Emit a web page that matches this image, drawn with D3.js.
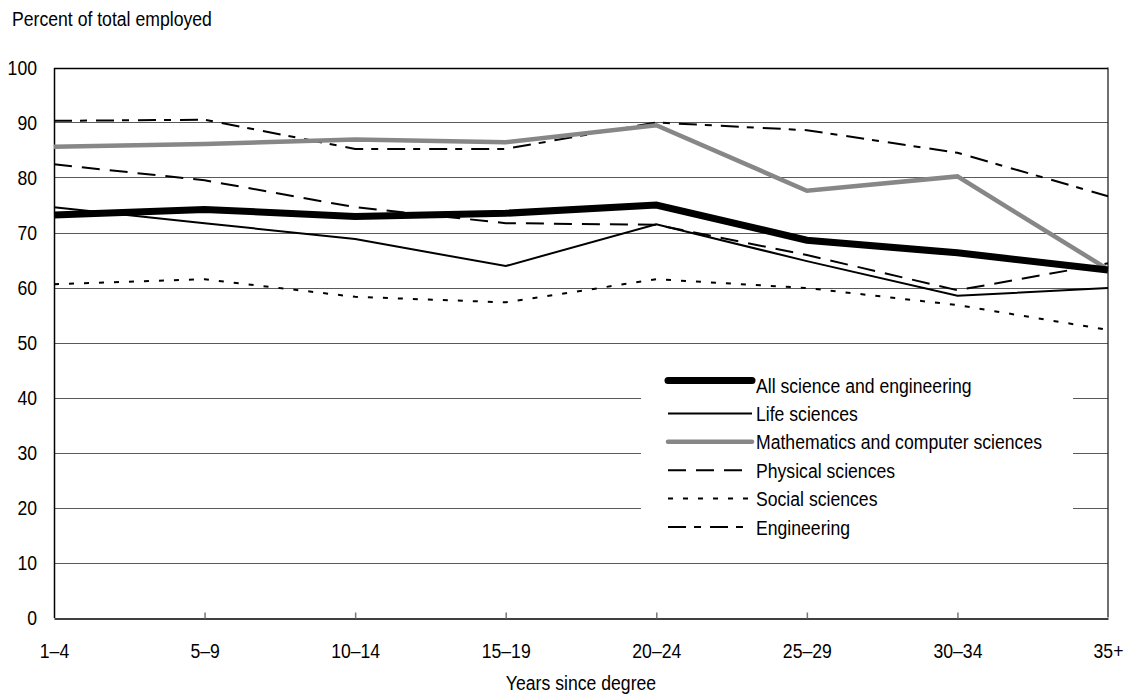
<!DOCTYPE html>
<html lang="en">
<head>
<meta charset="UTF-8">
<title>Percent of total employed by years since degree</title>
<style>
  body { margin: 0; background: #fff; }
  svg text { font-family: "Liberation Sans", Arial, sans-serif; fill: #000; }
  .grid line { stroke: #5a5a5a; stroke-width: 1; }
  .series { fill: none; stroke-linejoin: miter; }
</style>
</head>
<body>
<svg id="chart" width="1130" height="696"></svg>
<script src="https://d3js.org/d3.v7.min.js"></script>
<script>
const years = ["1\u20134", "5\u20139", "10\u201314", "15\u201319", "20\u201324", "25\u201329", "30\u201334", "35+"];
const yTicks = [0, 10, 20, 30, 40, 50, 60, 70, 80, 90, 100];

const allSE       = [73.2, 74.2, 72.9, 73.5, 75.0, 68.6, 66.3, 63.2];
const lifeSci     = [74.6, 71.7, 68.8, 63.9, 71.5, 64.8, 58.5, 59.9];
const mathCS      = [85.6, 86.1, 86.9, 86.4, 89.5, 77.6, 80.2, 63.3];
const physSci     = [82.4, 79.5, 74.6, 71.7, 71.4, 65.9, 59.5, 64.4];
const socialSci   = [60.6, 61.5, 58.3, 57.3, 61.5, 59.9, 56.8, 52.3];
const engineering = [90.3, 90.5, 85.2, 85.2, 90.0, 88.6, 84.5, 76.6];

const series = [
  { name: "All science and engineering", values: allSE, color: "#000", width: 7, dash: null },
  { name: "Life sciences", values: lifeSci, color: "#000", width: 2, dash: null },
  { name: "Mathematics and computer sciences", values: mathCS, color: "#878787", width: 4.5, dash: null },
  { name: "Physical sciences", values: physSci, color: "#000", width: 2, dash: "18,10" },
  { name: "Social sciences", values: socialSci, color: "#000", width: 2, dash: "5,10" },
  { name: "Engineering", values: engineering, color: "#000", width: 2, dash: "18,8,7,9" }
];

const margin = { top: 67.5, right: 22, bottom: 78.5, left: 54 };
const width = 1130, height = 696;
const fontSize = 21;
const squeeze = 0.84; // narrow face imitation

const svg = d3.select("#chart");

// make text look like a condensed face: scale horizontally, keep x positions
function narrow(sel) {
  sel.each(function() {
    const t = d3.select(this);
    const x0 = +(t.attr("x") || 0);
    t.attr("x", x0 / squeeze)
      .attr("transform", `scale(${squeeze},1)`)
      .attr("font-size", fontSize);
  });
}

const x = d3.scalePoint()
  .domain(years)
  .range([margin.left, width - margin.right]);

const y = d3.scaleLinear()
  .domain([0, 100])
  .range([height - margin.bottom, margin.top]);

// gridlines
svg.append("g")
  .attr("class", "grid")
  .selectAll("line")
  .data(yTicks.filter(d => d > 0 && d < 100))
  .join("line")
  .attr("x1", margin.left)
  .attr("x2", width - margin.right)
  .attr("y1", d => Math.round(y(d)) + 0.5)
  .attr("y2", d => Math.round(y(d)) + 0.5);

// frame: top, right
svg.append("line")
  .attr("x1", margin.left).attr("x2", width - margin.right)
  .attr("y1", Math.round(y(100)) + 0.5).attr("y2", Math.round(y(100)) + 0.5)
  .attr("stroke", "#000").attr("stroke-width", 1.3);
svg.append("line")
  .attr("x1", width - margin.right).attr("x2", width - margin.right)
  .attr("y1", y(100)).attr("y2", y(0))
  .attr("stroke", "#222").attr("stroke-width", 1.3);

// x axis with inner ticks
const xAxis = svg.append("g")
  .attr("transform", `translate(0,${Math.round(y(0)) + 0.5})`)
  .call(d3.axisBottom(x).tickSize(0).tickPadding(25));
xAxis.select(".domain").attr("stroke", "#000").attr("stroke-width", 1.5);
xAxis.selectAll(".tick text").call(narrow);
xAxis.selectAll(".tick")
  .filter((d, i) => i > 0 && i < years.length - 1)
  .append("line")
  .attr("y1", 0).attr("y2", -6)
  .attr("stroke", "#777").attr("stroke-width", 1.5);

// y axis
const yAxis = svg.append("g")
  .attr("transform", `translate(${margin.left},0)`)
  .call(d3.axisLeft(y).tickValues(yTicks).tickSize(0).tickPadding(17));
yAxis.select(".domain").attr("stroke", "#000").attr("stroke-width", 1.5);
yAxis.selectAll(".tick text").call(narrow);

// legend background (covers gridlines)
const legend = svg.append("g").attr("transform", "translate(641,355)");
legend.append("rect")
  .attr("width", 432).attr("height", 195)
  .attr("fill", "#fff");

// series lines
const line = d3.line()
  .x((d, i) => x(years[i]))
  .y(d => y(d));

svg.append("g")
  .selectAll("path")
  .data(series.slice().reverse())
  .join("path")
  .attr("class", "series")
  .attr("d", d => line(d.values))
  .attr("stroke", d => d.color)
  .attr("stroke-width", d => d.width)
  .attr("stroke-dasharray", d => d.dash);

// legend items
const rowH = 28.4;
const items = legend.selectAll("g.item")
  .data(series)
  .join("g")
  .attr("class", "item")
  .attr("transform", (d, i) => `translate(0,${30 + i * rowH})`);
items.append("line")
  .attr("x1", 27).attr("x2", 111)
  .attr("y1", (d, i) => i === 0 ? -4.5 : 0)
  .attr("y2", (d, i) => i === 0 ? -4.5 : 0)
  .attr("stroke", d => d.color)
  .attr("stroke-width", d => d.width)
  .attr("stroke-linecap", d => d.width > 3 ? "round" : "butt")
  .attr("stroke-dasharray", d => d.dash);
items.append("text")
  .attr("x", 115)
  .attr("dy", "0.36em")
  .text(d => d.name)
  .call(narrow);

// axis titles
svg.append("text")
  .attr("x", 12).attr("y", 26.5)
  .text("Percent of total employed")
  .call(narrow);

svg.append("text")
  .attr("x", (margin.left + width - margin.right) / 2)
  .attr("y", 690)
  .attr("text-anchor", "middle")
  .text("Years since degree")
  .call(narrow);
</script>
</body>
</html>
